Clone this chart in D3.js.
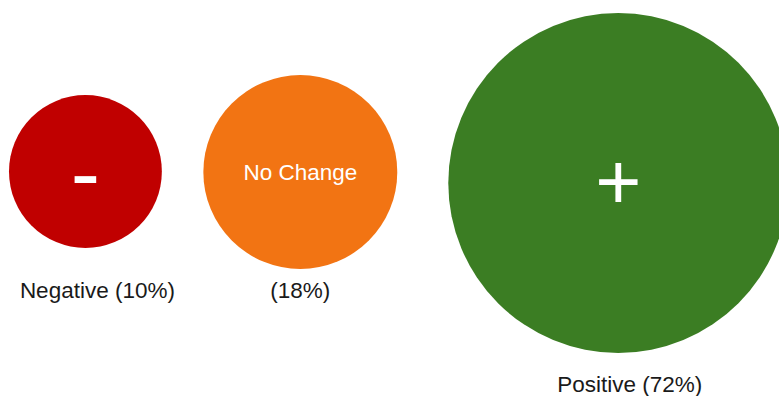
<!DOCTYPE html>
<html>
<head>
<meta charset="utf-8">
<script src="https://cdn.jsdelivr.net/npm/d3@7/dist/d3.min.js"></script>
<style>
  html, body { margin: 0; padding: 0; background: #ffffff; }
  svg { display: block; }
  text { font-family: "Liberation Sans", Arial, sans-serif; }
</style>
</head>
<body>
<svg id="chart" width="779" height="396"></svg>
<script>
// Share of responses by outcome
const categories = ["Negative", "No Change", "Positive"];
const shares = [10, 18, 72];
const symbols = ["-", "No Change", "+"];
const captions = ["Negative (10%)", "(18%)", "Positive (72%)"];
const colors = ["#C00000", "#F27413", "#3B7D23"];

const width = 779, height = 396;
const svg = d3.select("#chart");

// Bubble radius grows with share
const r = d3.scalePow().exponent(0.405).domain([0, 72]).range([0, 170]);

// Lay bubbles out left to right, edge gaps between neighbours
const left = 9;
const gaps = [41.5, 51];
const cy = [171.5, 172, 183];
const captionY = [297.5, 297.5, 392];
const captionDx = [12, 0, 11.5];
let xEdge = left;
const nodes = categories.map((c, i) => {
  const rad = r(shares[i]);
  const cx = xEdge + rad;
  xEdge = cx + rad + (gaps[i] || 0);
  return { cat: c, share: shares[i], r: rad, cx, cy: cy[i], i };
});

const g = svg.selectAll("g.bubble").data(nodes).join("g").attr("class", "bubble");

g.append("circle")
  .attr("cx", d => d.cx)
  .attr("cy", d => d.cy)
  .attr("r", d => d.r)
  .attr("fill", d => colors[d.i]);

// Symbol / name inside each bubble
const inner = [
  { size: 88, weight: 400, dy: 31.5 },
  { size: 22.5, weight: 400, dy: 8 },
  { size: 79, weight: 400, dy: 26 }
];
g.append("text")
  .attr("x", d => d.cx)
  .attr("y", d => d.cy + inner[d.i].dy)
  .attr("text-anchor", "middle")
  .attr("fill", "#ffffff")
  .attr("font-size", d => inner[d.i].size)
  .attr("font-weight", d => inner[d.i].weight)
  .text(d => symbols[d.i]);

// Caption under each bubble
g.append("text")
  .attr("x", d => d.cx + captionDx[d.i])
  .attr("y", d => captionY[d.i])
  .attr("text-anchor", "middle")
  .attr("fill", "#1a1a1a")
  .attr("font-size", 22.5)
  .text(d => captions[d.i]);
</script>
</body>
</html>
